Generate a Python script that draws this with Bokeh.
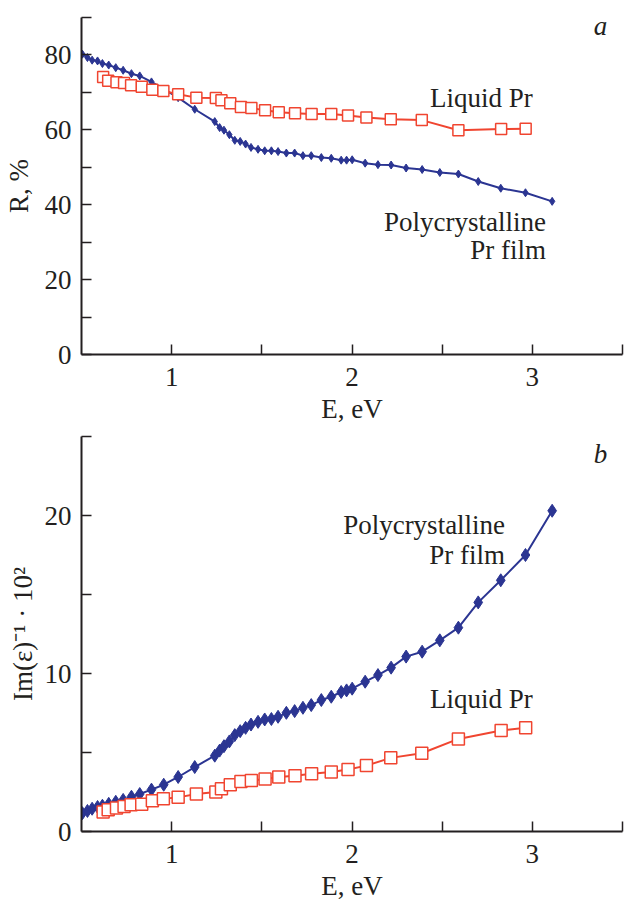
from bokeh.plotting import figure
from bokeh.layouts import column
from bokeh.models import Range1d, FixedTicker, Label
from bokeh.embed import file_html
from bokeh.resources import INLINE

# ---------------- data ----------------
E_poly = [0.505, 0.533, 0.559, 0.589, 0.616, 0.651, 0.690, 0.731, 0.777, 0.823,
          0.888, 0.956, 1.036, 1.128, 1.239, 1.266, 1.290, 1.320, 1.350, 1.380,
          1.410, 1.440, 1.479, 1.516, 1.553, 1.590, 1.636, 1.682, 1.728, 1.774,
          1.830, 1.885, 1.940, 1.970, 2.001, 2.073, 2.144, 2.217, 2.300, 2.389,
          2.487, 2.590, 2.700, 2.825, 2.962, 3.110]
R_poly = [80.2, 79.3, 78.6, 78.4, 77.7, 77.3, 76.6, 75.9, 75.0, 74.4,
          72.8, 70.9, 68.6, 65.5, 62.2, 60.6, 59.9, 58.7, 57.2, 56.9,
          56.2, 55.3, 54.8, 54.4, 54.4, 54.2, 53.8, 53.8, 53.1, 53.1,
          52.6, 52.4, 51.9, 51.9, 52.0, 51.1, 50.7, 50.6, 49.8, 49.4,
          48.6, 48.2, 46.2, 44.4, 43.2, 40.9]
Im_poly = [1.16, 1.30, 1.44, 1.55, 1.63, 1.75, 1.88, 2.00, 2.20, 2.37,
           2.65, 2.96, 3.45, 4.08, 4.80, 5.12, 5.40, 5.70, 6.10, 6.35,
           6.56, 6.77, 6.94, 7.09, 7.12, 7.26, 7.51, 7.62, 7.83, 8.00,
           8.32, 8.53, 8.83, 8.93, 9.04, 9.48, 9.90, 10.37, 11.07, 11.38,
           12.10, 12.90, 14.50, 15.90, 17.50, 20.30]

E_liq = [0.620, 0.648, 0.694, 0.736, 0.775, 0.834, 0.893, 0.954, 1.036, 1.137,
         1.245, 1.276, 1.325, 1.384, 1.442, 1.518, 1.594, 1.684, 1.776, 1.885,
         1.978, 2.080, 2.215, 2.387, 2.590, 2.827, 2.963]
R_liq = [74.1, 73.1, 72.7, 72.5, 71.9, 71.5, 70.7, 70.4, 69.5, 68.6,
         68.5, 67.9, 67.1, 66.1, 65.8, 65.2, 64.7, 64.4, 64.2, 64.2,
         63.8, 63.3, 62.8, 62.6, 59.9, 60.2, 60.3]
Im_liq = [1.23, 1.38, 1.48, 1.59, 1.69, 1.73, 1.95, 2.07, 2.16, 2.37,
          2.50, 2.70, 2.96, 3.17, 3.22, 3.32, 3.45, 3.53, 3.66, 3.77,
          3.92, 4.17, 4.66, 4.95, 5.86, 6.39, 6.56]

x_major = [1, 2, 3]
x_minor = [1.5, 2.5, 3.5]
ya_major = [0, 20, 40, 60, 80]
ya_minor = [10, 30, 50, 70, 90]
yb_major = [0, 10, 20]
yb_minor = [5, 15, 25]

# ---------------- style ----------------
FONT = "Liberation Serif"
FS = "27px"
BLUE = "#2b3592"
RED = "#f04530"
AX = "#231f20"


def style(p, ymaj, ymin, xlabel, ylabel, ystand):
    p.grid.visible = False
    p.outline_line_color = None
    p.background_fill_color = "white"
    p.border_fill_color = "white"
    p.xaxis.ticker = FixedTicker(ticks=x_major, minor_ticks=x_minor)
    p.yaxis.ticker = FixedTicker(ticks=ymaj, minor_ticks=ymin)
    for ax in (p.xaxis, p.yaxis):
        ax.axis_line_width = 2
        ax.axis_line_color = AX
        ax.major_tick_line_color = AX
        ax.minor_tick_line_color = AX
        ax.major_tick_line_width = 1.5
        ax.minor_tick_line_width = 1.5
        ax.major_tick_in = 10
        ax.major_tick_out = 0
        ax.minor_tick_in = 10
        ax.minor_tick_out = 0
        ax.major_label_text_font = FONT
        ax.major_label_text_font_size = FS
        ax.major_label_text_color = AX
        ax.axis_label_text_font = FONT
        ax.axis_label_text_font_size = FS
        ax.axis_label_text_font_style = "normal"
        ax.axis_label_text_color = AX
    p.xaxis.major_label_standoff = 13
    p.yaxis.major_label_standoff = 10
    p.xaxis.axis_label = xlabel
    p.yaxis.axis_label = ylabel
    p.xaxis.axis_label_standoff = 5
    p.yaxis.axis_label_standoff = ystand


def lab(p, x, y, text, align="left", italic=False):
    p.add_layout(Label(x=x, y=y, text=text, text_font=FONT, text_font_size=FS,
                       text_font_style="italic" if italic else "normal",
                       text_color=AX, text_align=align, text_baseline="middle"))


# ---------------- panel a ----------------
p1 = figure(width=628, height=435, output_backend="svg", toolbar_location=None,
            x_range=Range1d(0.5, 3.5), y_range=Range1d(0, 90),
            min_border_left=80, min_border_right=6, min_border_top=17,
            min_border_bottom=81)
style(p1, ya_major, ya_minor, "E, eV", "R, %", 8)
p1.line(E_poly, R_poly, line_color=BLUE, line_width=2)
p1.scatter(E_poly, R_poly, marker="diamond", size=8, fill_color=BLUE,
           line_color=BLUE)
p1.line(E_liq, R_liq, line_color=RED, line_width=2)
p1.scatter(E_liq, R_liq, marker="square", size=11, fill_color="white",
           line_color=RED, line_width=1.5)

lab(p1, 2.433, 68.5, "Liquid Pr")
lab(p1, 3.076, 35.5, "Polycrystalline", align="right")
lab(p1, 3.076, 28.0, "Pr film", align="right")
lab(p1, 3.34, 87.7, "a", italic=True)

# ---------------- panel b ----------------
p2 = figure(width=628, height=469, output_backend="svg", toolbar_location=None,
            x_range=Range1d(0.5, 3.5), y_range=Range1d(0, 25),
            min_border_left=80, min_border_right=6, min_border_top=1,
            min_border_bottom=73)
style(p2, yb_major, yb_minor, "E, eV", "Im(ε)⁻¹ · 10²", 4)
p2.line(E_poly, Im_poly, line_color=BLUE, line_width=2)
p2.scatter(E_poly, Im_poly, marker="diamond", size=13, fill_color=BLUE,
           line_color=BLUE)
p2.line(E_liq, Im_liq, line_color=RED, line_width=2)
p2.scatter(E_liq, Im_liq, marker="square", size=12, fill_color="white",
           line_color=RED, line_width=1.5)

lab(p2, 2.849, 19.4, "Polycrystalline", align="right")
lab(p2, 2.849, 17.5, "Pr film", align="right")
lab(p2, 2.433, 8.41, "Liquid Pr")
lab(p2, 3.34, 23.9, "b", italic=True)

layout = column(p1, p2, spacing=0)
open("out.html", "w").write(file_html(layout, INLINE))
